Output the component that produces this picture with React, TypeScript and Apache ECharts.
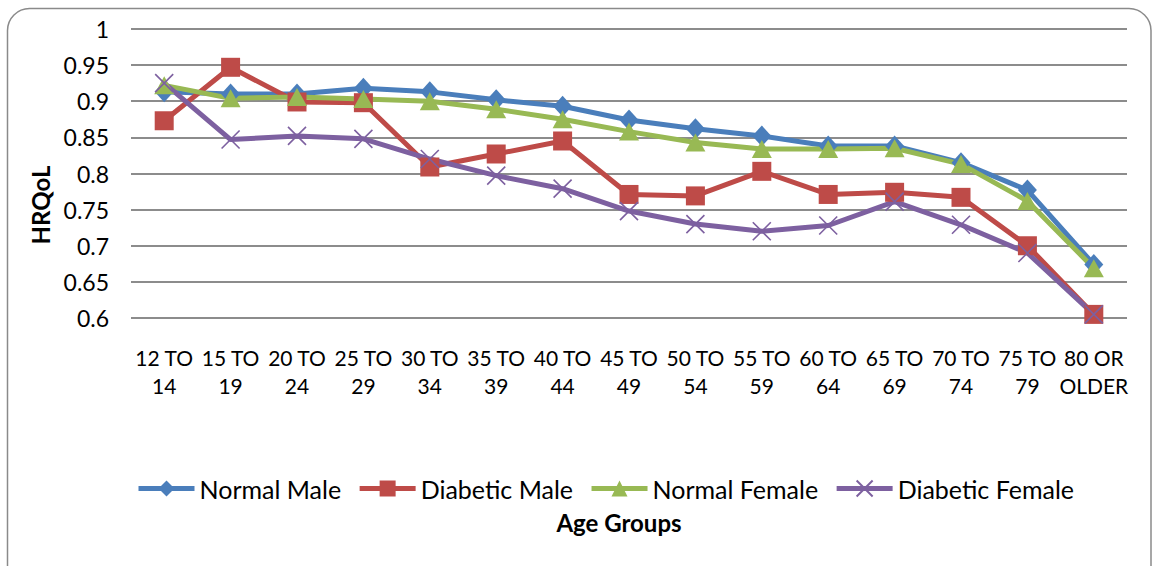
import React, { useEffect, useRef } from "react";
import * as echarts from "echarts";

const categories = [
  "12 TO\n14", "15 TO\n19", "20 TO\n24", "25 TO\n29", "30 TO\n34", "35 TO\n39", "40 TO\n44",
  "45 TO\n49", "50 TO\n54", "55 TO\n59", "60 TO\n64", "65 TO\n69", "70 TO\n74", "75 TO\n79", "80 OR\nOLDER",
];
const normalMale = [0.913, 0.91, 0.91, 0.918, 0.913, 0.902, 0.893, 0.874, 0.862, 0.852, 0.838, 0.838, 0.815, 0.777, 0.674];
const diabeticMale = [0.873, 0.947, 0.899, 0.898, 0.809, 0.827, 0.845, 0.771, 0.769, 0.803, 0.771, 0.774, 0.767, 0.7, 0.605];
const normalFemale = [0.922, 0.904, 0.906, 0.903, 0.9, 0.889, 0.875, 0.858, 0.843, 0.834, 0.834, 0.835, 0.813, 0.762, 0.669];
const diabeticFemale = [0.925, 0.847, 0.852, 0.848, 0.82, 0.797, 0.779, 0.748, 0.73, 0.72, 0.728, 0.761, 0.729, 0.69, 0.605];
const seriesNames = ["Normal Male", "Diabetic Male", "Normal Female", "Diabetic Female"];
const colors = ["#4A7EBB", "#BE4B48", "#98B954", "#7D60A0"];

const FONT = "Lato";

export default function App() {
  const ref = useRef<HTMLDivElement>(null);
  useEffect(() => {
    if (!ref.current) return;
    const chart = echarts.init(ref.current, null, { renderer: "svg" });
    const data = [normalMale, diabeticMale, normalFemale, diabeticFemale];
    const symbols = ["diamond", "rect", "triangle", "path://M0,0L10,10M10,0L0,10"];
    const sizes = [[19, 21], 19, [20, 18], 18];
    chart.setOption({
      animation: false,
      textStyle: { fontFamily: FONT, color: "#000" },
      grid: { left: 131, right: 31, top: 29, bottom: 248, containLabel: false },
      xAxis: {
        type: "category",
        data: categories,
        boundaryGap: true,
        axisLine: { show: false },
        axisTick: { show: false },
        axisLabel: { fontSize: 21, lineHeight: 28, margin: 25, color: "#000", fontFamily: FONT, interval: 0 },
      },
      yAxis: {
        type: "value",
        min: 0.6,
        max: 1,
        interval: 0.05,
        axisLine: { show: false },
        axisTick: { show: false },
        axisLabel: {
          fontSize: 23,
          margin: 22,
          color: "#000",
          fontFamily: FONT,
          formatter: (v: number) => String(+v.toFixed(2)),
        },
        splitLine: { lineStyle: { color: "#8C8C8C", width: 1.8 } },
      },
      legend: {
        left: 131,
        top: 471,
        itemWidth: 56,
        itemHeight: 20,
        itemGap: 16,
        lineStyle: { width: 5 },
        textStyle: { fontSize: 25, fontFamily: FONT, color: "#000" },
        data: seriesNames,
      },
      graphic: [
        {
          type: "rect",
          shape: { x: 7.5, y: 8.5, width: 1143.5, height: 580, r: 22 },
          style: { fill: "none", stroke: "#8A8A8A", lineWidth: 1.5 },
          silent: true,
        },
        {
          type: "text",
          x: 40,
          y: 205,
          rotation: Math.PI / 2,
          style: {
            text: "HRQoL",
            fontFamily: FONT,
            fontWeight: "bold",
            fontSize: 24,
            fill: "#000",
            align: "center",
            verticalAlign: "middle",
          },
        },
        {
          type: "text",
          x: 619,
          y: 522,
          style: {
            text: "Age Groups",
            fontFamily: FONT,
            fontWeight: "bold",
            fontSize: 24,
            fill: "#000",
            align: "center",
            verticalAlign: "middle",
          },
        },
      ],
      series: data.map((d, i) => ({
        name: seriesNames[i],
        type: "line",
        data: d,
        symbol: symbols[i],
        symbolSize: sizes[i],
        showAllSymbol: true,
        lineStyle: { color: colors[i], width: 5 },
        itemStyle: {
          color: colors[i],
          borderColor: colors[i],
          borderWidth: i === 3 ? 1.6 : 0,
          opacity: 1,
        },
        emphasis: { disabled: true },
      })),
    });
    return () => chart.dispose();
  }, []);
  return (
    <div
      ref={ref}
      style={{ position: "absolute", left: 0, top: 0, width: 1158, height: 566, background: "#fff" }}
    />
  );
}
